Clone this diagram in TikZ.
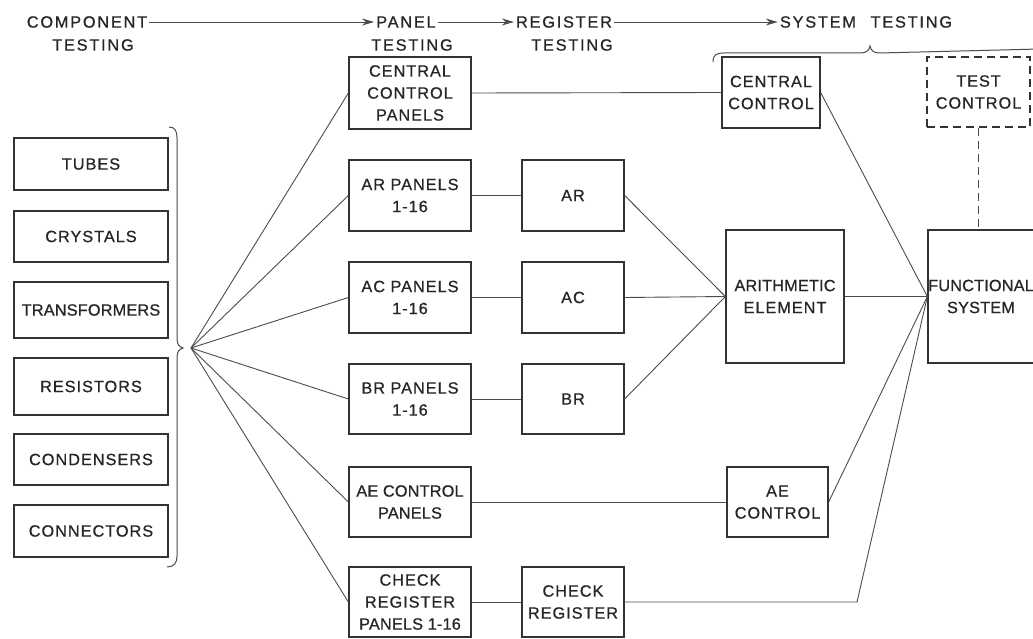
\documentclass[tikz,border=0pt]{standalone}
\usepackage{fontspec}
\setmainfont{Liberation Sans}[LetterSpace=6,FakeBold=0.7]
\usetikzlibrary{arrows.meta}
\newcommand{\lbl}{\fontsize{16.3}{22}\selectfont}
\newcommand{\hlbl}{\fontsize{16.3}{22}\selectfont\addfontfeatures{LetterSpace=11}}
\newcommand{\tightlbl}{\fontsize{16.3}{22}\selectfont\addfontfeatures{LetterSpace=1}}
\begin{document}
\begin{tikzpicture}[x=1pt,y=-1pt,
  box/.style={draw=black!80, line width=1.3pt, inner sep=0pt, align=center, font=\lbl, text=black!85},
  dbox/.style={box, dash pattern=on 8pt off 5pt},
  wire/.style={draw=black!70, line width=0.9pt},
  dwire/.style={wire, line width=1.1pt, dash pattern=on 8pt off 5pt},
  hdr/.style={font=\hlbl, align=center, inner sep=2pt, text=black!85},
  harrow/.style={wire, -{Stealth[length=12pt,width=7pt]}},
  bracepen/.style={draw=black!70, line width=1pt}]
\useasboundingbox (0,0) rectangle (1033,639);
\fill[white] (0,0) rectangle (1033,639);

% ---- header ----
\node[hdr] (comp1) at (87,22) {COMPONENT};
\node[hdr] (comp2) at (93,45) {TESTING};
\node[hdr] (pan1) at (406,22) {PANEL};
\node[hdr] (pan2) at (412,45) {TESTING};
\node[hdr] (reg1) at (564,22) {REGISTER};
\node[hdr] (reg2) at (572,45) {TESTING};
\node[hdr] (sys) at (866,22) {SYSTEM\hspace{0.9em}TESTING};
\draw[harrow] (comp1.east) -- (pan1.west);
\draw[harrow] (pan1.east) -- (reg1.west);
\draw[harrow] (reg1.east) -- (sys.west);

% brace over system testing
\draw[bracepen] (713,62) .. controls (713,55) and (716,53) .. (724,53)
  -- (860,53) .. controls (866,53) and (869,51) .. (870,46)
  .. controls (871,51) and (874,53) .. (880,53) -- (1040,49);

% ---- left component boxes ----
\node[box, minimum width=154, minimum height=52] (tubes) at (91,164) {TUBES};
\node[box, minimum width=154, minimum height=51] (cryst) at (91,236.5) {CRYSTALS};
\node[box, minimum width=154, minimum height=56] (trans) at (91,310) {\tightlbl TRANSFORMERS};
\node[box, minimum width=154, minimum height=57] (resis) at (91,386.5) {RESISTORS};
\node[box, minimum width=154, minimum height=51] (conde) at (91,459.5) {CONDENSERS};
\node[box, minimum width=154, minimum height=52] (conne) at (91,531) {CONNECTORS};

% left brace
\draw[bracepen] (169,127) .. controls (175,127) and (177,131) .. (177,138)
  -- (177,338) .. controls (177,344) and (179,347) .. (183,348)
  .. controls (179,349) and (177,352) .. (177,358)
  -- (177,556) .. controls (177,563) and (174,567) .. (167,567);
\coordinate (hub) at (191,348);

% ---- panel testing ----
\node[box, minimum width=122, minimum height=72] (ccp) at (410,93) {CENTRAL\\CONTROL\\PANELS};
\node[box, minimum width=122, minimum height=71] (arp) at (410,195.5) {AR PANELS\\1-16};
\node[box, minimum width=122, minimum height=71] (acp) at (410,297.5) {AC PANELS\\1-16};
\node[box, minimum width=122, minimum height=70] (brp) at (410,399) {BR PANELS\\1-16};
\node[box, minimum width=122, minimum height=70] (aecp) at (410,502) {\tightlbl AE CONTROL\\\tightlbl PANELS};
\node[box, minimum width=122, minimum height=70] (crp) at (410,602) {CHECK\\REGISTER\\\tightlbl PANELS 1-16};

% ---- register testing ----
\node[box, minimum width=102, minimum height=71] (ar) at (573,195.5) {AR};
\node[box, minimum width=102, minimum height=71] (ac) at (573,297.5) {AC};
\node[box, minimum width=102, minimum height=70] (br) at (573,399) {BR};
\node[box, minimum width=102, minimum height=70] (cr) at (573,602) {CHECK\\REGISTER};

% ---- system testing ----
\node[box, minimum width=98, minimum height=71] (cc) at (771,92.5) {CENTRAL\\CONTROL};
\node[box, minimum width=118, minimum height=133] (ae) at (785,296.5) {\tightlbl ARITHMETIC\\ELEMENT};
\node[box, minimum width=101, minimum height=70] (aec) at (777.5,502) {AE\\CONTROL};
\node[dbox, minimum width=103, minimum height=70] (tc) at (978.5,92) {TEST\\CONTROL};
\node[box, minimum width=114, minimum height=133] (fs) at (985,296.5) {};
\node[font=\tightlbl, text=black!85, align=center, inner sep=0pt] (fstext) at (fs.center) [xshift=-4pt] {FUNCTIONAL\\SYSTEM};
\coordinate (crturn) at (857,602);

% ---- connectors ----
\foreach \t in {ccp,arp,acp,brp,aecp,crp} \draw[wire] (hub) -- (\t.west);
\draw[wire] (ccp.east) -- (cc.west);
\draw[wire] (arp.east) -- (ar.west);
\draw[wire] (acp.east) -- (ac.west);
\draw[wire] (brp.east) -- (br.west);
\draw[wire] (crp.east) -- (cr.west);
\draw[wire] (aecp.east) -- (aec.west);
\draw[wire] (ar.east) -- (ae.west);
\draw[wire] (ac.east) -- (ae.west);
\draw[wire] (br.east) -- (ae.west);
\draw[wire] (cc.east) -- (fs.west);
\draw[wire] (ae.east) -- (fs.west);
\draw[wire] (aec.east) -- (fs.west);
\draw[wire] (cr.east) -- (crturn) -- (fs.west);
\draw[dwire] (tc.south) -- (tc.south |- fs.north);
\end{tikzpicture}
\end{document}
